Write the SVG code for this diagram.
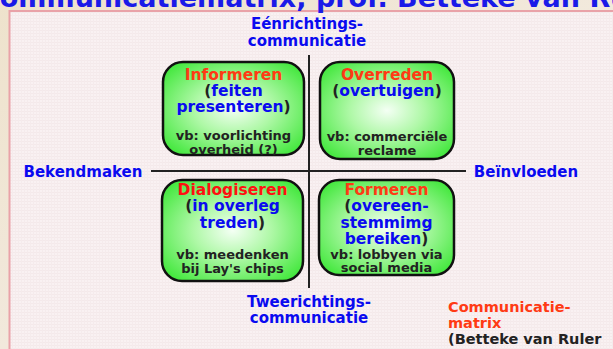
<svg xmlns="http://www.w3.org/2000/svg" width="613" height="349" viewBox="0 0 613 349">
  <defs>
    <radialGradient id="boxGrad" cx="50%" cy="50%" r="62%">
      <stop offset="0" stop-color="#f4fff4"/>
      <stop offset="0.45" stop-color="#aef8a6"/>
      <stop offset="1" stop-color="#46e840"/>
    </radialGradient>
    <linearGradient id="outerGrad" x1="0" y1="0" x2="1" y2="1">
      <stop offset="0" stop-color="#eee2cc"/>
      <stop offset="0.5" stop-color="#f2e9dc"/>
      <stop offset="1" stop-color="#efe4d4"/>
    </linearGradient>
    <pattern id="grid" width="3" height="3" patternUnits="userSpaceOnUse">
      <rect width="3" height="3" fill="#f9f1f2"/>
      <rect width="3" height="1" fill="#f4e9ea"/>
      <rect width="1" height="3" fill="#f5ebec"/>
    </pattern>
    <style>
      text { font-family: "DejaVu Sans", Verdana, sans-serif; font-weight: bold; }
      .box { fill: url(#boxGrad); stroke: #111; stroke-width: 2.5; }
      .head { font-size: 15.5px; text-anchor: middle; }
      .ex { font-size: 13px; text-anchor: middle; fill: #222; }
      .red { fill: #ff3a14; }
      .blue { fill: #0a0af0; }
      .dark { fill: #222; }
      .axis { font-size: 15px; fill: #0a0af0; text-anchor: middle; }
      .axisline { stroke: #222; stroke-width: 2; fill: none; }
      .cap { font-size: 14.5px; }
    </style>
  </defs>

  <!-- background -->
  <rect x="0" y="0" width="613" height="349" fill="url(#outerGrad)"/>
  <rect x="9.5" y="11" width="610" height="345" fill="url(#grid)" stroke="#e9a2a8" stroke-width="2"/>

  <!-- clipped title -->
  <text x="-20" y="7" font-size="27" fill="#1a1ae8">Communicatiematrix, prof. Betteke van Ruler</text>

  <!-- connectors (axes) -->
  <g id="connectors">
    <line class="axisline" x1="309" y1="55" x2="309" y2="288"/>
    <line class="axisline" x1="151" y1="171" x2="466" y2="171"/>
  </g>

  <!-- axis labels -->
  <g id="label-top">
    <text class="axis" x="307" y="29">Eénrichtings-</text>
    <text class="axis" x="307" y="46">communicatie</text>
  </g>
  <g id="label-bottom">
    <text class="axis" x="309" y="307">Tweerichtings-</text>
    <text class="axis" x="309" y="323">communicatie</text>
  </g>
  <g id="label-left">
    <text class="axis" x="83" y="177">Bekendmaken</text>
  </g>
  <g id="label-right">
    <text class="axis" x="526" y="177">Beïnvloeden</text>
  </g>

  <!-- quadrant nodes -->
  <g id="node-informeren">
    <rect class="box" x="163" y="62" width="141" height="93" rx="20"/>
    <text class="head red" x="233.5" y="80">Informeren</text>
    <text class="head" x="233.5" y="96"><tspan class="dark">(</tspan><tspan class="blue">feiten</tspan></text>
    <text class="head" x="233.5" y="112"><tspan class="blue">presenteren</tspan><tspan class="dark">)</tspan></text>
    <text class="ex" x="233.5" y="140">vb: voorlichting</text>
    <text class="ex" x="233.5" y="154">overheid (?)</text>
  </g>

  <g id="node-overreden">
    <rect class="box" x="320" y="62" width="134" height="97" rx="20"/>
    <text class="head red" x="387" y="80">Overreden</text>
    <text class="head" x="387" y="96"><tspan class="dark">(</tspan><tspan class="blue">overtuigen</tspan><tspan class="dark">)</tspan></text>
    <text class="ex" x="387" y="140.5">vb: commerciële</text>
    <text class="ex" x="387" y="155">reclame</text>
  </g>

  <g id="node-dialogiseren">
    <rect class="box" x="162" y="180" width="141" height="101" rx="20"/>
    <text class="head" x="232.5" y="194.5" fill="#ff1010">Dialogiseren</text>
    <text class="head" x="232.5" y="211"><tspan class="dark">(</tspan><tspan class="blue">in overleg</tspan></text>
    <text class="head" x="232.5" y="228"><tspan class="blue">treden</tspan><tspan class="dark">)</tspan></text>
    <text class="ex" x="232.5" y="259">vb: meedenken</text>
    <text class="ex" x="232.5" y="272.5">bij Lay's chips</text>
  </g>

  <g id="node-formeren">
    <rect class="box" x="319" y="180" width="135" height="95" rx="20"/>
    <text class="head red" x="386.5" y="194.5">Formeren</text>
    <text class="head" x="386.5" y="211"><tspan class="dark">(</tspan><tspan class="blue">overeen-</tspan></text>
    <text class="head" x="386.5" y="227.5"><tspan class="blue">stemmimg</tspan></text>
    <text class="head" x="386.5" y="243.5"><tspan class="blue">bereiken</tspan><tspan class="dark">)</tspan></text>
    <text class="ex" x="386.5" y="258.5">vb: lobbyen via</text>
    <text class="ex" x="386.5" y="272">social media</text>
  </g>

  <!-- caption -->
  <g id="caption">
    <text class="cap" x="448" y="312" fill="#ff3a14">Communicatie-</text>
    <text class="cap" x="448" y="327.5" fill="#ff3a14">matrix</text>
    <text class="cap" x="448" y="343.5" fill="#222">(Betteke van Ruler</text>
  </g>
</svg>
